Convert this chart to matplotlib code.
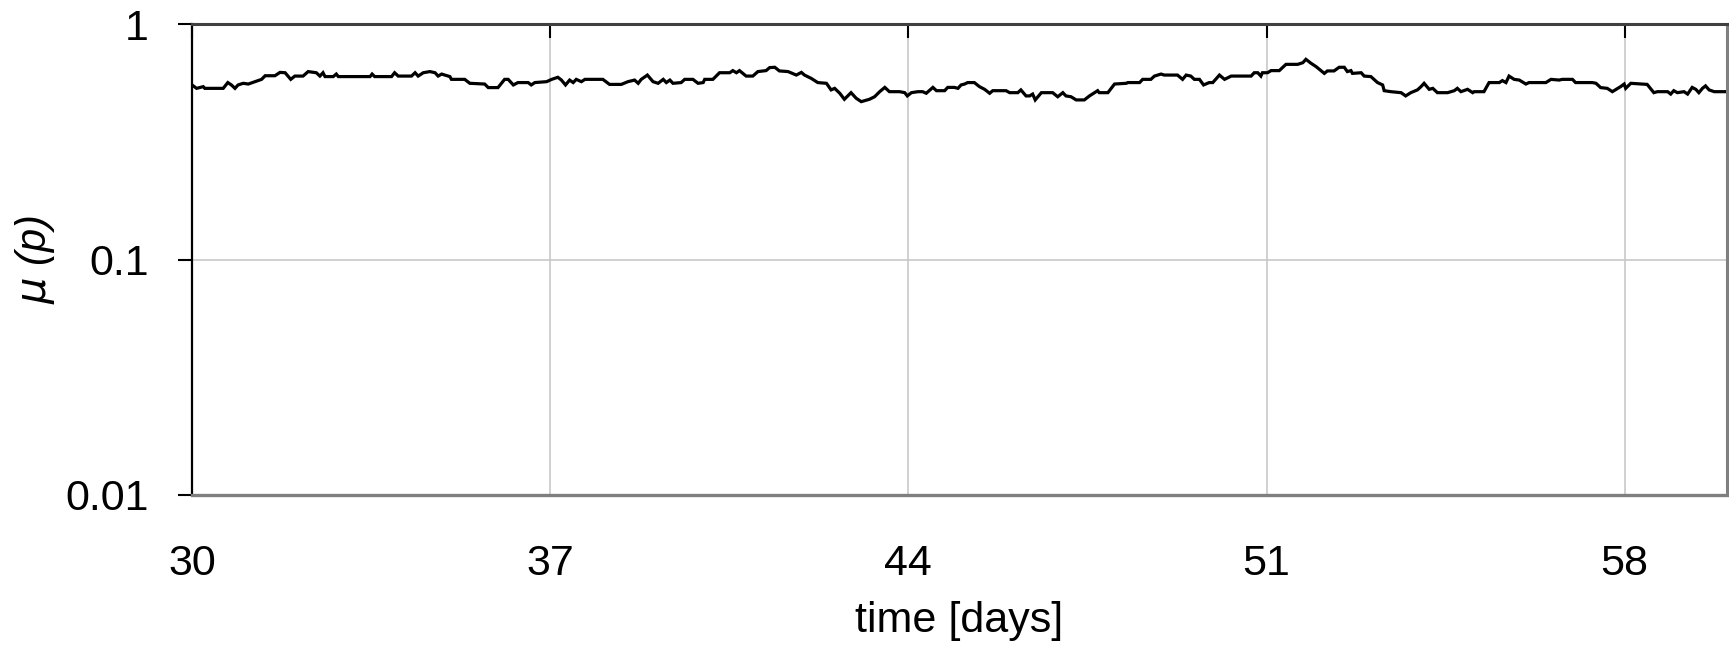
# mu(p) over time, log scale, one black line (Excel-looking style)
import matplotlib
matplotlib.use("Agg")
import matplotlib.pyplot as plt
from matplotlib.ticker import FixedLocator, FixedFormatter

plt.rcParams["font.family"] = ["Liberation Sans", "DejaVu Sans"]

# --- data (days, mu(p)) ---
days = [30.00, 30.09, 30.22, 30.25, 30.61, 30.70, 30.77, 30.84, 30.90, 31.00,
        31.10, 31.23, 31.36, 31.43, 31.62, 31.72, 31.82, 31.93, 32.01, 32.17,
        32.27, 32.43, 32.50, 32.56, 32.60, 32.76, 32.82, 32.86, 33.48, 33.52,
        33.57, 33.90, 33.96, 34.03, 34.29, 34.36, 34.42, 34.52, 34.65, 34.75,
        34.81, 34.88,
        34.94, 35.04, 35.07, 35.33, 35.43, 35.72, 35.79, 35.98, 36.11, 36.18,
        36.28, 36.37, 36.57, 36.63, 36.70, 36.93, 37.03, 37.15, 37.22, 37.30,
        37.38, 37.45, 37.51, 37.61, 37.68, 38.03, 38.16, 38.39, 38.52, 38.65,
        38.72, 38.78, 38.90, 39.01, 39.11, 39.21, 39.27, 39.34, 39.40, 39.56,
        39.63, 39.79, 39.89, 39.99,
        40.02, 40.18, 40.31, 40.51, 40.57, 40.64, 40.70, 40.83, 40.96, 41.06,
        41.22, 41.29, 41.39, 41.48, 41.65, 41.81, 41.91, 41.97, 42.10, 42.23,
        42.40, 42.49, 42.56, 42.66, 42.75, 42.88, 42.98, 43.08, 43.24, 43.34,
        43.44, 43.54, 43.63, 43.83, 43.93, 43.98, 44.06, 44.19, 44.28, 44.35,
        44.48, 44.55, 44.71, 44.77, 44.90, 44.97, 45.03,
        45.10, 45.16, 45.29, 45.39, 45.49, 45.59, 45.65, 45.91, 45.98, 46.14,
        46.20, 46.30, 46.37, 46.43, 46.48, 46.60, 46.82, 46.92, 47.02, 47.08,
        47.18, 47.28, 47.44, 47.54, 47.64, 47.70, 47.73, 47.90, 48.03, 48.26,
        48.29, 48.52, 48.58, 48.74, 48.81, 48.94, 49.00, 49.26, 49.36, 49.43,
        49.52, 49.59, 49.69, 49.77, 49.88, 49.95, 50.08,
        50.18, 50.31, 50.70, 50.76, 50.83, 50.89, 50.92, 51.02, 51.09, 51.25,
        51.38, 51.61, 51.71, 51.77, 51.87, 51.97, 52.13, 52.19, 52.32, 52.42,
        52.52, 52.58, 52.65, 52.68, 52.85, 52.91, 53.04, 53.17, 53.27, 53.30,
        53.43, 53.63, 53.72, 53.82, 53.95, 54.02, 54.08, 54.18, 54.25, 54.34,
        54.54, 54.67, 54.73, 54.80, 54.93, 55.03,
        55.06, 55.25, 55.35, 55.55, 55.61, 55.68, 55.74, 55.84, 55.94, 56.07,
        56.13, 56.46, 56.56, 56.72, 56.78, 56.98, 57.04, 57.37, 57.44, 57.53,
        57.66, 57.76, 57.92, 57.99, 58.02, 58.12, 58.44, 58.57, 58.64, 58.84,
        58.90, 58.96, 59.03, 59.16, 59.23, 59.32, 59.39, 59.45, 59.52, 59.58,
        59.65, 59.75, 60.00]

mu = [0.551, 0.533, 0.542, 0.533, 0.533, 0.564, 0.551, 0.533, 0.551, 0.560,
      0.556, 0.569, 0.582, 0.603, 0.603, 0.623, 0.621, 0.582, 0.601, 0.601,
      0.628, 0.621, 0.601, 0.621, 0.598, 0.598, 0.613, 0.598, 0.598, 0.613,
      0.598, 0.598, 0.621, 0.601, 0.601, 0.621, 0.601, 0.621, 0.628, 0.621,
      0.601, 0.613,
      0.607, 0.598, 0.582, 0.582, 0.560, 0.556, 0.537, 0.537, 0.582, 0.582,
      0.551, 0.564, 0.564, 0.551, 0.564, 0.569, 0.582, 0.594, 0.578, 0.551,
      0.578, 0.564, 0.582, 0.569, 0.582, 0.582, 0.554, 0.554, 0.569, 0.578,
      0.560, 0.582, 0.607, 0.569, 0.560, 0.582, 0.564, 0.578, 0.560, 0.564,
      0.582, 0.582, 0.560, 0.564,
      0.582, 0.582, 0.621, 0.621, 0.634, 0.621, 0.634, 0.601, 0.601, 0.628,
      0.634, 0.653, 0.655, 0.632, 0.628, 0.607, 0.623, 0.607, 0.588, 0.564,
      0.560, 0.525, 0.533, 0.508, 0.479, 0.511, 0.484, 0.468, 0.479, 0.491,
      0.516, 0.538, 0.516, 0.516, 0.511, 0.495, 0.511, 0.516, 0.516, 0.508,
      0.538, 0.521, 0.521, 0.538, 0.538, 0.533, 0.551,
      0.556, 0.564, 0.564, 0.542, 0.528, 0.508, 0.521, 0.521, 0.511, 0.511,
      0.525, 0.495, 0.495, 0.504, 0.476, 0.511, 0.511, 0.491, 0.511, 0.495,
      0.491, 0.476, 0.476, 0.495, 0.511, 0.521, 0.511, 0.511, 0.556, 0.560,
      0.564, 0.564, 0.582, 0.582, 0.601, 0.613, 0.607, 0.607, 0.582, 0.607,
      0.601, 0.582, 0.582, 0.551, 0.564, 0.564, 0.607,
      0.582, 0.601, 0.601, 0.621, 0.621, 0.601, 0.621, 0.621, 0.634, 0.634,
      0.674, 0.674, 0.685, 0.708, 0.681, 0.659, 0.617, 0.632, 0.632, 0.655,
      0.655, 0.628, 0.634, 0.617, 0.621, 0.601, 0.598, 0.564, 0.551, 0.521,
      0.516, 0.511, 0.495, 0.511, 0.525, 0.542, 0.560, 0.528, 0.533, 0.511,
      0.511, 0.521, 0.533, 0.516, 0.528, 0.511,
      0.516, 0.516, 0.564, 0.564, 0.575, 0.564, 0.601, 0.582, 0.578, 0.556,
      0.564, 0.564, 0.582, 0.578, 0.582, 0.582, 0.564, 0.564, 0.560, 0.537,
      0.533, 0.516, 0.542, 0.556, 0.533, 0.560, 0.554, 0.511, 0.516, 0.516,
      0.504, 0.521, 0.511, 0.516, 0.504, 0.538, 0.528, 0.511, 0.533, 0.546,
      0.525, 0.516, 0.516]

x_ticks = [30, 37, 44, 51, 58]
y_ticks = [0.01, 0.1, 1]
y_tick_labels = ["0.01", "0.1", "1"]

fig = plt.figure(figsize=(17.29, 6.49), dpi=100)
ax = fig.add_axes([192 / 1729, 1 - 495 / 649, 1535 / 1729, 471 / 649])

ax.plot(days, mu, color="black", lw=2.3, solid_joinstyle="miter")

ax.set_yscale("log")
ax.set_xlim(30, 60)
ax.set_ylim(0.01, 1)

ax.xaxis.set_major_locator(FixedLocator(x_ticks))
ax.yaxis.set_major_locator(FixedLocator(y_ticks))
ax.yaxis.set_major_formatter(FixedFormatter(y_tick_labels))
ax.yaxis.set_minor_locator(FixedLocator([]))

ax.grid(True, which="major", color="#c8c8c8", lw=1.2)
ax.set_axisbelow(True)

ax.tick_params(axis="x", bottom=False, top=True, direction="in", length=10,
               width=1.5, color="black", labelbottom=True, labeltop=False,
               labelsize=31, pad=35)
ax.tick_params(axis="y", left=True, direction="out", length=10, width=1.5,
               color="black", labelsize=31, pad=21)

ax.spines["left"].set_color("black")
ax.spines["left"].set_linewidth(1.6)
ax.spines["top"].set_color("#404040")
ax.spines["top"].set_linewidth(2.2)
ax.spines["bottom"].set_color("#7f7f7f")
ax.spines["bottom"].set_linewidth(2.4)
ax.spines["right"].set_color("#7f7f7f")
ax.spines["right"].set_linewidth(2.2)

ax.set_xlabel("time [days]", fontsize=31)
ax.xaxis.set_label_coords(0.5, -0.225)
ax.xaxis.label.set_va("top")
ax.set_ylabel(r"$\mu$ (p)", fontsize=30, style="italic")
ax.yaxis.set_label_coords(-0.088, 0.5)

fig.savefig("out.png", dpi=100)
